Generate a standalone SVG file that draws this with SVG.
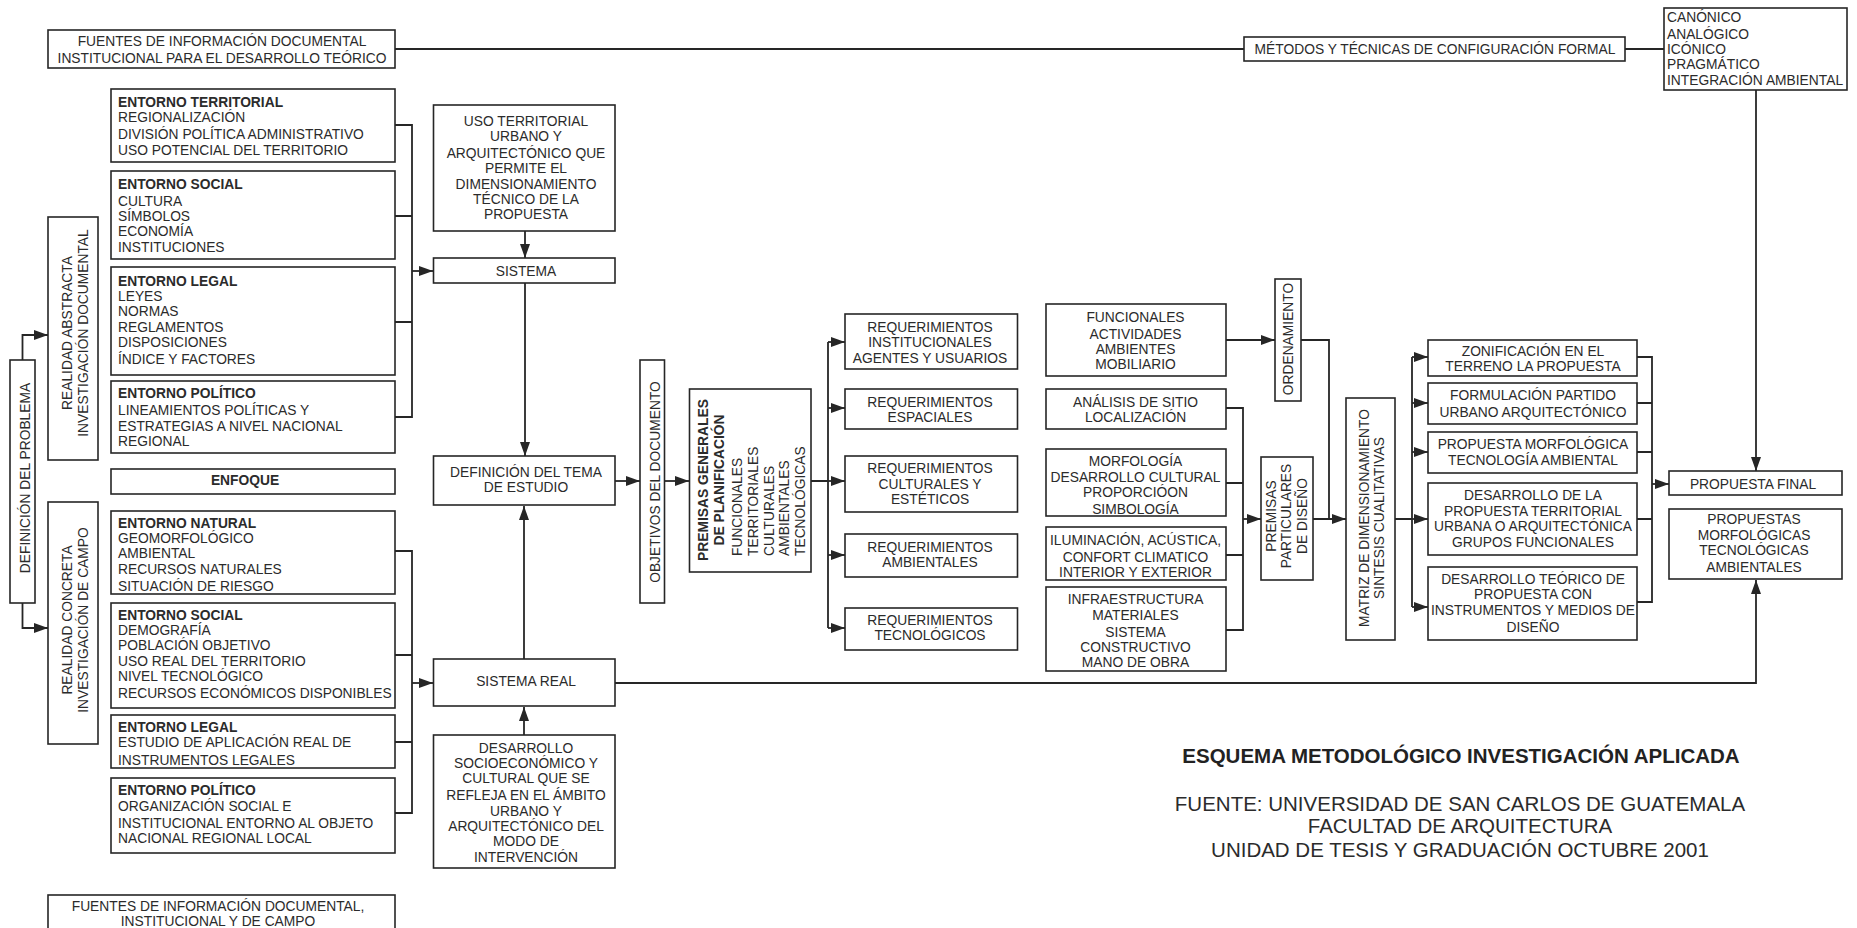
<svg xmlns="http://www.w3.org/2000/svg" width="1857" height="928" viewBox="0 0 1857 928">
<style>
text{font-family:"Liberation Sans",Arial,sans-serif;font-size:13.8px;fill:#2b2b2b}
.c{text-anchor:middle}
.b{font-weight:700}
rect{fill:#fff;stroke:#262626;stroke-width:1.6}
.l path{fill:none;stroke:#262626;stroke-width:1.8}
.t{font-size:20.5px;fill:#222}
.f{font-size:20.5px}
</style>
<defs><marker id="a" markerUnits="userSpaceOnUse" markerWidth="15" markerHeight="10" refX="14" refY="5" orient="auto"><path d="M0 0L14 5L0 10Z" fill="#262626"/></marker></defs>
<rect width="1857" height="928" style="fill:#fff;stroke:none"/>
<g id="connectors" class="l">
<path d="M395 49H1244M1625 49H1664"/>
<path d="M395 125H412V417H395M395 216H412M395 322H412"/>
<path d="M412 271H433" marker-end="url(#a)"/>
<path d="M525 231V258" marker-end="url(#a)"/>
<path d="M525 283V456" marker-end="url(#a)"/>
<path d="M22.500 360V335H48" marker-end="url(#a)"/>
<path d="M22.500 603V628H48" marker-end="url(#a)"/>
<path d="M395 551H412V813H395M395 655H412M395 742H412"/>
<path d="M412 683H433" marker-end="url(#a)"/>
<path d="M524 659V506" marker-end="url(#a)"/>
<path d="M524 735V707" marker-end="url(#a)"/>
<path d="M615 683H1756V580" marker-end="url(#a)"/>
<path d="M615 481H640" marker-end="url(#a)"/>
<path d="M664 481H689" marker-end="url(#a)"/>
<path d="M811 481H828M828 342V628"/>
<path d="M828 342H845" marker-end="url(#a)"/>
<path d="M828 408H845" marker-end="url(#a)"/>
<path d="M828 481H845" marker-end="url(#a)"/>
<path d="M828 555H845" marker-end="url(#a)"/>
<path d="M828 628H845" marker-end="url(#a)"/>
<path d="M1226 340H1275" marker-end="url(#a)"/>
<path d="M1301 340H1329V519"/>
<path d="M1226 408H1243V630H1226M1226 483H1243M1226 555H1243"/>
<path d="M1243 519H1261" marker-end="url(#a)"/>
<path d="M1313 519H1346" marker-end="url(#a)"/>
<path d="M1395 519H1412M1412 357V607"/>
<path d="M1412 357H1428" marker-end="url(#a)"/>
<path d="M1412 403H1428" marker-end="url(#a)"/>
<path d="M1412 452H1428" marker-end="url(#a)"/>
<path d="M1412 519H1428" marker-end="url(#a)"/>
<path d="M1412 607H1428" marker-end="url(#a)"/>
<path d="M1637 357H1652V602H1637M1637 403H1652M1637 452H1652M1637 519H1652"/>
<path d="M1652 484H1669" marker-end="url(#a)"/>
<path d="M1756 90V471" marker-end="url(#a)"/>
</g>
<g id="fuentes-top"><rect x="48" y="30" width="347" height="38"/><text class="c" x="222" y="46">FUENTES DE INFORMACIÓN DOCUMENTAL</text><text class="c" x="222" y="63">INSTITUCIONAL PARA EL DESARROLLO TEÓRICO</text></g>
<g id="metodos"><rect x="1244" y="37" width="381" height="24"/><text class="c" x="1435" y="54">MÉTODOS Y TÉCNICAS DE CONFIGURACIÓN FORMAL</text></g>
<g id="canonico"><rect x="1664" y="8" width="183" height="82"/><text x="1667" y="22">CANÓNICO</text><text x="1667" y="39">ANALÓGICO</text><text x="1667" y="54">ICÓNICO</text><text x="1667" y="69">PRAGMÁTICO</text><text x="1667" y="85">INTEGRACIÓN AMBIENTAL</text></g>
<g id="definicion-problema"><rect x="10" y="360" width="25" height="243"/><text class="c" transform="translate(30 478) rotate(-90)">DEFINICIÓN DEL PROBLEMA</text></g>
<g id="realidad-abstracta"><rect x="48" y="217" width="50" height="243"/><text class="c" transform="translate(71.500 333) rotate(-90)">REALIDAD ABSTRACTA</text><text class="c" transform="translate(88 333) rotate(-90)">INVESTIGACIÓN DOCUMENTAL</text></g>
<g id="realidad-concreta"><rect x="48" y="502" width="50" height="242"/><text class="c" transform="translate(71.500 620) rotate(-90)">REALIDAD CONCRETA</text><text class="c" transform="translate(88 620) rotate(-90)">INVESTIGACIÓN DE CAMPO</text></g>
<g id="entorno-territorial"><rect x="111" y="89" width="284" height="73"/><text class="b" x="118" y="107">ENTORNO TERRITORIAL</text><text x="118" y="122">REGIONALIZACIÓN</text><text x="118" y="139">DIVISIÓN POLÍTICA ADMINISTRATIVO</text><text x="118" y="155">USO POTENCIAL DEL TERRITORIO</text></g>
<g id="entorno-social-a"><rect x="111" y="171" width="284" height="88"/><text class="b" x="118" y="189">ENTORNO SOCIAL</text><text x="118" y="206">CULTURA</text><text x="118" y="221">SÍMBOLOS</text><text x="118" y="236">ECONOMÍA</text><text x="118" y="252">INSTITUCIONES</text></g>
<g id="entorno-legal-a"><rect x="111" y="267" width="284" height="108"/><text class="b" x="118" y="286">ENTORNO LEGAL</text><text x="118" y="301">LEYES</text><text x="118" y="316">NORMAS</text><text x="118" y="332">REGLAMENTOS</text><text x="118" y="347">DISPOSICIONES</text><text x="118" y="364">ÍNDICE Y FACTORES</text></g>
<g id="entorno-politico-a"><rect x="111" y="381" width="284" height="72"/><text class="b" x="118" y="398">ENTORNO POLÍTICO</text><text x="118" y="415">LINEAMIENTOS POLÍTICAS Y</text><text x="118" y="431">ESTRATEGIAS A NIVEL NACIONAL</text><text x="118" y="446">REGIONAL</text></g>
<g id="enfoque"><rect x="111" y="469" width="284" height="25"/><text class="c b" x="245" y="485">ENFOQUE</text></g>
<g id="entorno-natural"><rect x="111" y="511" width="284" height="83"/><text class="b" x="118" y="528">ENTORNO NATURAL</text><text x="118" y="543">GEOMORFOLÓGICO</text><text x="118" y="558">AMBIENTAL</text><text x="118" y="574">RECURSOS NATURALES</text><text x="118" y="591">SITUACIÓN DE RIESGO</text></g>
<g id="entorno-social-b"><rect x="111" y="603" width="284" height="105"/><text class="b" x="118" y="620">ENTORNO SOCIAL</text><text x="118" y="635">DEMOGRAFÍA</text><text x="118" y="650">POBLACIÓN OBJETIVO</text><text x="118" y="666">USO REAL DEL TERRITORIO</text><text x="118" y="681">NIVEL TECNOLÓGICO</text><text x="118" y="698">RECURSOS ECONÓMICOS DISPONIBLES</text></g>
<g id="entorno-legal-b"><rect x="111" y="715" width="284" height="53"/><text class="b" x="118" y="732">ENTORNO LEGAL</text><text x="118" y="747">ESTUDIO DE APLICACIÓN REAL DE</text><text x="118" y="765">INSTRUMENTOS LEGALES</text></g>
<g id="entorno-politico-b"><rect x="111" y="778" width="284" height="75"/><text class="b" x="118" y="795">ENTORNO POLÍTICO</text><text x="118" y="811">ORGANIZACIÓN SOCIAL E</text><text x="118" y="828">INSTITUCIONAL ENTORNO AL OBJETO</text><text x="118" y="843">NACIONAL REGIONAL LOCAL</text></g>
<g id="fuentes-bottom"><rect x="48" y="895" width="347" height="45"/><text class="c" x="218" y="911">FUENTES DE INFORMACIÓN DOCUMENTAL,</text><text class="c" x="218" y="926">INSTITUCIONAL Y DE CAMPO</text></g>
<g id="uso-territorial"><rect x="433.500" y="105" width="181.500" height="126"/><text class="c" x="526" y="126">USO TERRITORIAL</text><text class="c" x="526" y="141">URBANO Y</text><text class="c" x="526" y="158">ARQUITECTÓNICO QUE</text><text class="c" x="526" y="173">PERMITE EL</text><text class="c" x="526" y="189">DIMENSIONAMIENTO</text><text class="c" x="526" y="204">TÉCNICO DE LA</text><text class="c" x="526" y="219">PROPUESTA</text></g>
<g id="sistema"><rect x="433.500" y="258" width="181.500" height="25"/><text class="c" x="526" y="276">SISTEMA</text></g>
<g id="definicion-tema"><rect x="433.500" y="456" width="181.500" height="49"/><text class="c" x="526" y="477">DEFINICIÓN DEL TEMA</text><text class="c" x="526" y="492">DE ESTUDIO</text></g>
<g id="sistema-real"><rect x="433.500" y="659" width="181.500" height="47"/><text class="c" x="526" y="686">SISTEMA REAL</text></g>
<g id="desarrollo-socio"><rect x="433.500" y="735" width="181.500" height="133"/><text class="c" x="526" y="753">DESARROLLO</text><text class="c" x="526" y="768">SOCIOECONÓMICO Y</text><text class="c" x="526" y="783">CULTURAL QUE SE</text><text class="c" x="526" y="800">REFLEJA EN EL ÁMBITO</text><text class="c" x="526" y="816">URBANO Y</text><text class="c" x="526" y="831">ARQUITECTÓNICO DEL</text><text class="c" x="526" y="846">MODO DE</text><text class="c" x="526" y="862">INTERVENCIÓN</text></g>
<g id="objetivos"><rect x="640" y="360" width="24.500" height="243"/><text class="c" transform="translate(659.500 482) rotate(-90)">OBJETIVOS DEL DOCUMENTO</text></g>
<g id="premisas-generales"><rect x="689.500" y="389" width="121.500" height="183"/><text class="c b" transform="translate(708 480) rotate(-90)">PREMISAS GENERALES</text><text class="c b" transform="translate(724 480) rotate(-90)">DE PLANIFICACIÓN</text><text transform="translate(742 556) rotate(-90)">FUNCIONALES</text><text transform="translate(758 556) rotate(-90)">TERRITORIALES</text><text transform="translate(774 556) rotate(-90)">CULTURALES</text><text transform="translate(789 556) rotate(-90)">AMBIENTALES</text><text transform="translate(804.500 556) rotate(-90)">TECNOLÓGICAS</text></g>
<g id="req-institucionales"><rect x="845" y="314" width="172.500" height="55"/><text class="c" x="930" y="332">REQUERIMIENTOS</text><text class="c" x="930" y="347">INSTITUCIONALES</text><text class="c" x="930" y="363">AGENTES Y USUARIOS</text></g>
<g id="req-espaciales"><rect x="845" y="389" width="172.500" height="40"/><text class="c" x="930" y="407">REQUERIMIENTOS</text><text class="c" x="930" y="422">ESPACIALES</text></g>
<g id="req-culturales"><rect x="845" y="456" width="172.500" height="56"/><text class="c" x="930" y="473">REQUERIMIENTOS</text><text class="c" x="930" y="489">CULTURALES Y</text><text class="c" x="930" y="504">ESTÉTICOS</text></g>
<g id="req-ambientales"><rect x="845" y="534" width="172.500" height="43"/><text class="c" x="930" y="552">REQUERIMIENTOS</text><text class="c" x="930" y="567">AMBIENTALES</text></g>
<g id="req-tecnologicos"><rect x="845" y="608" width="172.500" height="42"/><text class="c" x="930" y="625">REQUERIMIENTOS</text><text class="c" x="930" y="640">TECNOLÓGICOS</text></g>
<g id="funcionales"><rect x="1046" y="304" width="180" height="72"/><text class="c" x="1135.500" y="322">FUNCIONALES</text><text class="c" x="1135.500" y="339">ACTIVIDADES</text><text class="c" x="1135.500" y="354">AMBIENTES</text><text class="c" x="1135.500" y="369">MOBILIARIO</text></g>
<g id="analisis"><rect x="1046" y="389" width="180" height="40"/><text class="c" x="1135.500" y="407">ANÁLISIS DE SITIO</text><text class="c" x="1135.500" y="422">LOCALIZACIÓN</text></g>
<g id="morfologia"><rect x="1046" y="449" width="180" height="67"/><text class="c" x="1135.500" y="466">MORFOLOGÍA</text><text class="c" x="1135.500" y="482">DESARROLLO CULTURAL</text><text class="c" x="1135.500" y="497">PROPORCIÓON</text><text class="c" x="1135.500" y="514">SIMBOLOGÍA</text></g>
<g id="iluminacion"><rect x="1046" y="527" width="180" height="53"/><text class="c" x="1135.500" y="545">ILUMINACIÓN, ACÚSTICA,</text><text class="c" x="1135.500" y="562">CONFORT CLIMATICO</text><text class="c" x="1135.500" y="577">INTERIOR Y EXTERIOR</text></g>
<g id="infraestructura"><rect x="1046" y="587" width="180" height="84"/><text class="c" x="1135.500" y="604">INFRAESTRUCTURA</text><text class="c" x="1135.500" y="620">MATERIALES</text><text class="c" x="1135.500" y="637">SISTEMA</text><text class="c" x="1135.500" y="652">CONSTRUCTIVO</text><text class="c" x="1135.500" y="667">MANO DE OBRA</text></g>
<g id="ordenamiento"><rect x="1275" y="279" width="26" height="122"/><text class="c" transform="translate(1293 339) rotate(-90)">ORDENAMIENTO</text></g>
<g id="premisas-particulares"><rect x="1261" y="457" width="52" height="123"/><text class="c" transform="translate(1276 516) rotate(-90)">PREMISAS</text><text class="c" transform="translate(1291 516) rotate(-90)">PARTICULARES</text><text class="c" transform="translate(1307 516) rotate(-90)">DE DISEÑO</text></g>
<g id="matriz"><rect x="1346" y="398" width="49" height="242"/><text class="c" transform="translate(1369 518) rotate(-90)">MATRIZ DE DIMENSIONAMIENTO</text><text class="c" transform="translate(1384 518) rotate(-90)">SINTESIS CUALITATIVAS</text></g>
<g id="zonificacion"><rect x="1428" y="340" width="209" height="36"/><text class="c" x="1533" y="356">ZONIFICACIÓN EN EL</text><text class="c" x="1533" y="371">TERRENO LA PROPUESTA</text></g>
<g id="formulacion"><rect x="1428" y="383" width="209" height="41"/><text class="c" x="1533" y="400">FORMULACIÓN PARTIDO</text><text class="c" x="1533" y="417">URBANO ARQUITECTÓNICO</text></g>
<g id="propuesta-morfologica"><rect x="1428" y="432" width="209" height="41"/><text class="c" x="1533" y="449">PROPUESTA MORFOLÓGICA</text><text class="c" x="1533" y="465">TECNOLOGÍA AMBIENTAL</text></g>
<g id="desarrollo-propuesta"><rect x="1428" y="483" width="209" height="72"/><text class="c" x="1533" y="500">DESARROLLO DE LA</text><text class="c" x="1533" y="516">PROPUESTA TERRITORIAL</text><text class="c" x="1533" y="531">URBANA O ARQUITECTÓNICA</text><text class="c" x="1533" y="547">GRUPOS FUNCIONALES</text></g>
<g id="desarrollo-teorico"><rect x="1428" y="567" width="209" height="73"/><text class="c" x="1533" y="584">DESARROLLO TEÓRICO DE</text><text class="c" x="1533" y="599">PROPUESTA CON</text><text class="c" x="1533" y="615">INSTRUMENTOS Y MEDIOS DE</text><text class="c" x="1533" y="632">DISEÑO</text></g>
<g id="propuesta-final"><rect x="1669" y="471" width="173" height="24"/><text class="c" x="1753" y="489">PROPUESTA FINAL</text></g>
<g id="propuestas"><rect x="1669" y="509" width="173" height="70"/><text class="c" x="1754" y="524">PROPUESTAS</text><text class="c" x="1754" y="540">MORFOLÓGICAS</text><text class="c" x="1754" y="555">TECNOLÓGICAS</text><text class="c" x="1754" y="572">AMBIENTALES</text></g>
<text class="c b t" x="1461" y="763">ESQUEMA METODOLÓGICO INVESTIGACIÓN APLICADA</text>
<text class="c f" x="1460" y="811">FUENTE: UNIVERSIDAD DE SAN CARLOS DE GUATEMALA</text>
<text class="c f" x="1460" y="833">FACULTAD DE ARQUITECTURA</text>
<text class="c f" x="1460" y="857">UNIDAD DE TESIS Y GRADUACIÓN OCTUBRE 2001</text>
</svg>
